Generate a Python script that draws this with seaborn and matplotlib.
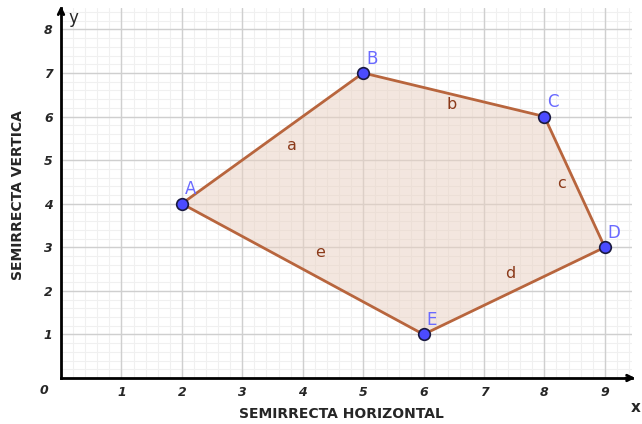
import matplotlib
matplotlib.use("Agg")
import matplotlib.pyplot as plt
import seaborn as sns
import numpy as np
import pandas as pd

# polygon vertices
names = ["A", "B", "C", "D", "E"]
xs = [2, 5, 8, 9, 6]
ys = [4, 7, 6, 3, 1]
# side labels (segment name, position)
sides = ["a", "b", "c", "d", "e"]
side_x = [3.82, 6.47, 8.28, 7.43, 4.29]
side_y = [5.34, 6.28, 4.47, 2.39, 2.87]
x_ticks = [1, 2, 3, 4, 5, 6, 7, 8, 9]
y_ticks = [1, 2, 3, 4, 5, 6, 7, 8]

df = pd.DataFrame({"name": names, "x": xs, "y": ys})
closed = pd.concat([df, df.iloc[:1]], ignore_index=True)

sns.set_style("white")
plt.rcParams["font.family"] = ["DejaVu Sans"]

fig = plt.figure(figsize=(6.42, 4.24), dpi=100)
ax = fig.add_axes([61/642, 46/424, 571/642, 370/424])
ax.set_xlim(0, 9.45)
ax.set_ylim(0, 8.49)

# grid
for v in np.arange(0.2, 9.45, 0.2):
    ax.axvline(v, color="#f0f0f0", lw=0.8, zorder=0)
for v in np.arange(0.2, 8.49, 0.2):
    ax.axhline(v, color="#f0f0f0", lw=0.8, zorder=0)
for v in x_ticks:
    ax.axvline(v, color="#cfcfcf", lw=1.0, zorder=0)
for v in y_ticks:
    ax.axhline(v, color="#cfcfcf", lw=1.0, zorder=0)

ax.fill(df["x"], df["y"], color="#e9cfc0", alpha=0.5, zorder=1, lw=0)
sns.lineplot(data=closed, x="x", y="y", sort=False, estimator=None, color="#b8653d",
             lw=2, ax=ax, zorder=2)
sns.scatterplot(data=df, x="x", y="y", color="#4b4bff", edgecolor="#1a1a40", s=70,
                linewidth=1.2, ax=ax, zorder=3)

for n, x, y in zip(names, xs, ys):
    ax.text(x + 0.05, y + 0.12, n, color="#6a6aff", fontsize=12, ha="left", va="bottom", zorder=4)
for s, x, y in zip(sides, side_x, side_y):
    ax.text(x, y, s, color="#8b3a1a", fontsize=11.5, ha="center", va="center", zorder=4)

for sp in ["top", "right"]:
    ax.spines[sp].set_visible(False)
for sp in ["left", "bottom"]:
    ax.spines[sp].set_color("black")
    ax.spines[sp].set_linewidth(2)

ax.annotate("", xy=(9.55, 0), xytext=(9.3, 0), xycoords="data",
            arrowprops=dict(arrowstyle="->", lw=2, color="black"), annotation_clip=False)
ax.annotate("", xy=(0, 8.6), xytext=(0, 8.3), xycoords="data",
            arrowprops=dict(arrowstyle="->", lw=2, color="black"), annotation_clip=False)

ax.set_xticks(x_ticks)
ax.set_yticks(y_ticks)
ax.set_xticklabels([str(t) for t in x_ticks], fontstyle="italic", fontweight="bold", fontsize=9)
ax.set_yticklabels([str(t) for t in y_ticks], fontstyle="italic", fontweight="bold", fontsize=9)
ax.tick_params(length=0, pad=6)
ax.text(-0.28, -0.13, "0", fontstyle="italic", fontweight="bold", fontsize=9,
        ha="center", va="top")

ax.set_xlabel("")
ax.set_ylabel("")
fig.text(341/642, 1 - 414/424, "SEMIRRECTA HORIZONTAL", fontweight="bold", fontsize=10,
         ha="center", va="center")
fig.text(18/642, 1 - 195/424, "SEMIRRECTA VERTICA", fontweight="bold", fontsize=10,
         rotation=90, ha="center", va="center")
fig.text(636/642, 1 - 407/424, "x", fontweight="bold", fontsize=11, ha="center", va="center")
fig.text(73/642, 1 - 18/424, "y", fontsize=12, ha="center", va="center")

fig.savefig("out.png", dpi=100, facecolor="white")
